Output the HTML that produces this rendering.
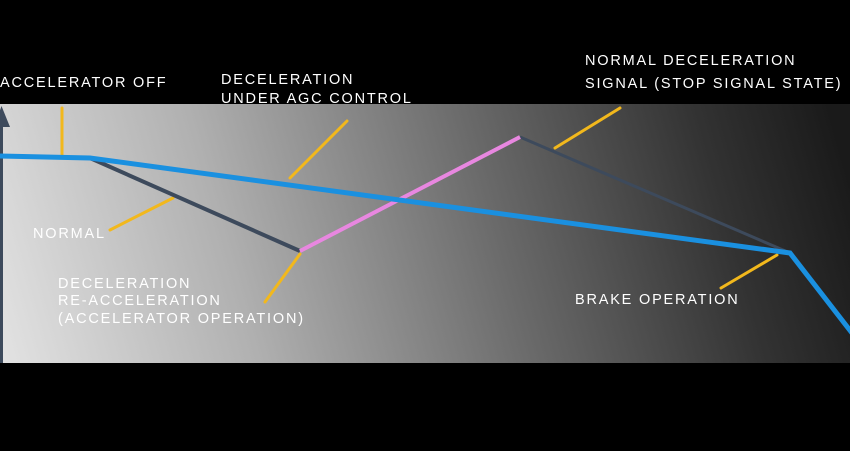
<!DOCTYPE html>
<html><head><style>
html,body{margin:0;padding:0;background:#000;}
svg{display:block}
text{font-family:"Liberation Sans",sans-serif;font-size:14.5px;fill:#fff;letter-spacing:1.8px;}
</style></head><body>
<svg width="850" height="451" viewBox="0 0 850 451">
<defs>
<linearGradient id="g" x1="0" y1="420" x2="850" y2="180" gradientUnits="userSpaceOnUse">
<stop offset="0" stop-color="#e6e6e6"/>
<stop offset="0.3" stop-color="#b0b0b0"/>
<stop offset="0.6" stop-color="#6a6a6a"/>
<stop offset="0.85" stop-color="#333"/>
<stop offset="1" stop-color="#1a1a1a"/>
</linearGradient>
</defs>
<rect x="0" y="0" width="850" height="451" fill="#000"/>
<rect x="0" y="104" width="850" height="259" fill="url(#g)"/>
<line x1="1.5" y1="110" x2="1.5" y2="363" stroke="#3d4a5c" stroke-width="3"/>
<polygon points="-6,127 1.5,106 10,127" fill="#3d4a5c"/>
<g stroke="#f2b81c" stroke-width="3" stroke-linecap="round">
<line x1="62" y1="108" x2="62" y2="155"/>
<line x1="110" y1="230" x2="173" y2="198"/>
<line x1="290" y1="178" x2="347" y2="121"/>
<line x1="265" y1="302" x2="300" y2="254"/>
<line x1="555" y1="148" x2="620" y2="108"/>
<line x1="721" y1="288" x2="777" y2="255"/>
</g>
<g fill="none" stroke-linejoin="miter">
<polyline points="90,158 300,251" stroke="#3d4a5c" stroke-width="4"/>
<polyline points="520,137 790,253" stroke="#3d4a5c" stroke-width="3"/>
<polyline points="300,251 520,137" stroke="#e887e0" stroke-width="4"/>
<polyline points="0,156 90,158 790,253 852,333" stroke="#1a90e0" stroke-width="5"/>
</g>
<text x="0" y="87">ACCELERATOR OFF</text>
<text x="221" y="84">DECELERATION</text>
<text x="221" y="103">UNDER AGC CONTROL</text>
<text x="585" y="65">NORMAL DECELERATION</text>
<text x="585" y="88">SIGNAL (STOP SIGNAL STATE)</text>
<text x="33" y="238">NORMAL</text>
<text x="58" y="288">DECELERATION</text>
<text x="58" y="305">RE-ACCELERATION</text>
<text x="58" y="323">(ACCELERATOR OPERATION)</text>
<text x="575" y="304">BRAKE OPERATION</text>
</svg>
</body></html>
